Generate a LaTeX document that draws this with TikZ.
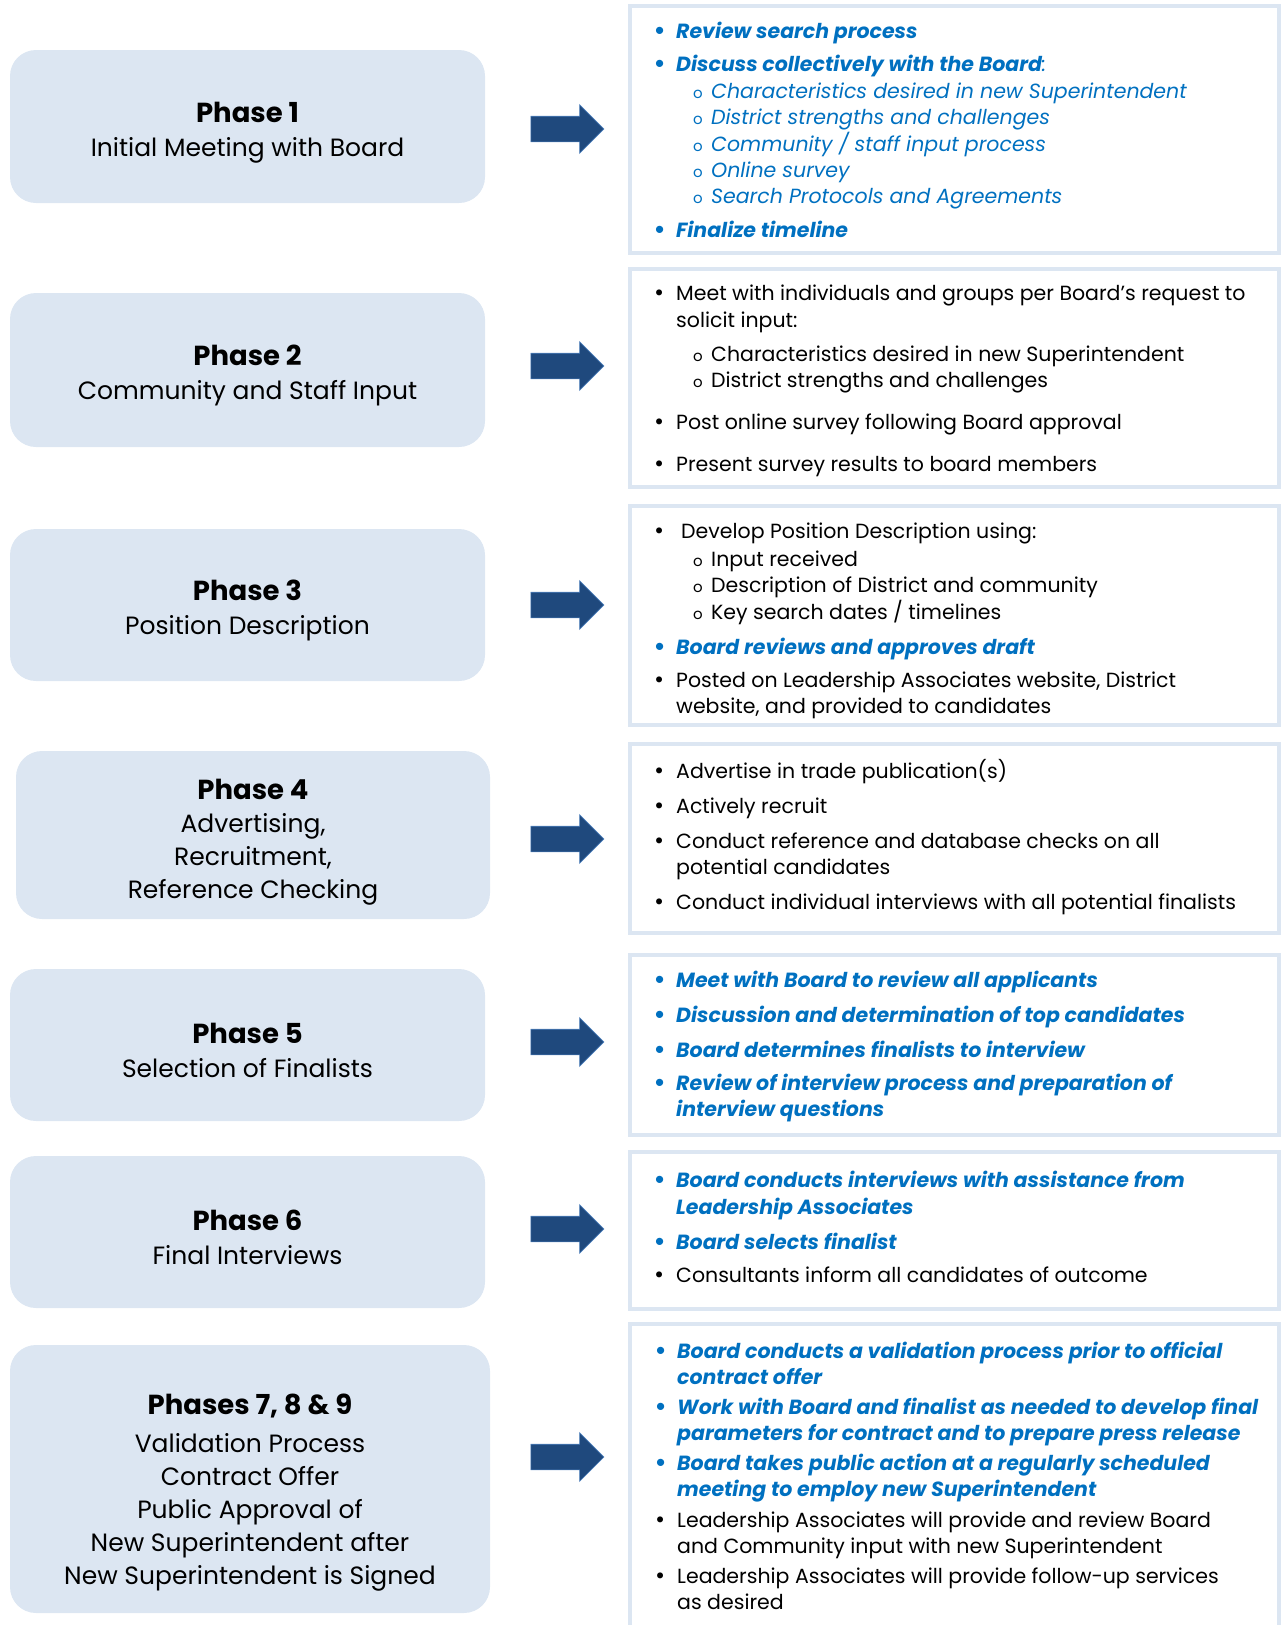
\documentclass[tikz,border=0pt]{standalone}
\usepackage{fontspec}
\setmainfont{Poppins}
\newfontfamily\dotfont{DejaVu Sans}
\usetikzlibrary{positioning,shapes.arrows}
\definecolor{paleblue}{HTML}{DCE6F2}
\definecolor{navy}{HTML}{1F497D}
\definecolor{edgeblue}{HTML}{4F81BD}
\definecolor{textblue}{HTML}{0070C0}
\tikzset{
  phase/.style={rectangle, rounded corners=26pt, fill=paleblue, align=center, inner sep=0pt, font=\fontsize{25}{33}\selectfont},
  frame/.style={rectangle, draw=paleblue, line width=4pt, minimum width=649pt, inner sep=0pt},
  pointer/.style={single arrow, fill=navy, draw=edgeblue, line width=0.6pt, minimum height=73pt, minimum width=48pt, inner sep=12.5pt, single arrow head extend=11.5pt},
  items/.style={anchor=base west, inner sep=0pt, font=\fontsize{20.5}{26}\selectfont}
}
\newcommand{\ptitle}[2][32pt]{\rule{0pt}{#1}{\fontsize{27.5}{34}\selectfont\bfseries #2}}
\newcommand{\dotb}[1][20pt]{\makebox[#1][l]{\kern-3pt\dotfont •}}
\newcommand{\subb}{\makebox[55pt][r]{\makebox[18pt][l]{\upshape\fontsize{15}{15}\selectfont o}}}
\newcommand{\cont}{\makebox[20pt]{}}
\newcommand{\hi}[1]{\textcolor{textblue}{\bfseries\itshape #1}}
\newcommand{\lo}[1]{\textcolor{textblue}{\itshape #1}}
\newenvironment{lines}{\begin{tabular}[t]{@{}l@{}}}{\end{tabular}}

\begin{document}
\begin{tikzpicture}[x=1pt, y=-1pt]
  \useasboundingbox (0,0) rectangle (1281,1625);

  % phases on the left
  \node[phase, minimum width=475pt, minimum height=153pt] (P1) at (247.5,126.5) {\ptitle{Phase 1}\\[1pt]Initial Meeting with Board};
  \node[phase, minimum width=475pt, minimum height=154pt] (P2) at (247.5,370) {\ptitle{Phase 2}\\[1pt]Community and Staff Input};
  \node[phase, minimum width=475pt, minimum height=152pt] (P3) at (247.5,605) {\ptitle{Phase 3}\\[1pt]Position Description};
  \node[phase, minimum width=474pt, minimum height=168pt] (P4) at (253,835) {\ptitle[34pt]{Phase 4}\\[0pt]Advertising,\\Recruitment,\\Reference Checking};
  \node[phase, minimum width=475pt, minimum height=152pt] (P5) at (247.5,1045) {\ptitle{Phase 5}\\[1pt]Selection of Finalists};
  \node[phase, minimum width=475pt, minimum height=152pt] (P6) at (247.5,1232) {\ptitle{Phase 6}\\[1pt]Final Interviews};
  \node[phase, minimum width=480pt, minimum height=268pt] (P7) at (250,1479) {\ptitle[48pt]{Phases 7, 8 \& 9}\\[5pt]Validation Process\\Contract Offer\\Public Approval of\\New Superintendent after\\New Superintendent is Signed};

  % arrows
  \node[pointer] (A1) at (561,129) {};
  \node[pointer] (A2) at (561,366) {};
  \node[pointer] (A3) at (561,605) {};
  \node[pointer] (A4) at (561,839) {};
  \node[pointer] (A5) at (561,1042) {};
  \node[pointer] (A6) at (561,1229) {};
  \node[pointer] (A7) at (561,1457) {};

  % frames on the right
  \node[frame, minimum height=247pt] (R1) at (954.5,129.5) {};
  \node[frame, minimum height=218pt] (R2) at (954.5,378) {};
  \node[frame, minimum height=219pt] (R3) at (954.5,615.5) {};
  \node[frame, minimum height=189pt] (R4) at (954.5,838.5) {};
  \node[frame, minimum height=180pt] (R5) at (954.5,1045) {};
  \node[frame, minimum height=157pt] (R6) at (954.5,1230.5) {};
  \node[frame, minimum height=320pt] (R7) at (954.5,1484) {};

  \node[items] (L1) at (656,38) {\begin{lines}
    \hi{\dotb Review search process}\\[7pt]
    \hi{\dotb Discuss collectively with the Board}\lo{:}\\[1pt]
    \lo{\subb Characteristics desired in new Superintendent}\\
    \lo{\subb District strengths and challenges}\\
    \lo{\subb Community / staff input process}\\
    \lo{\subb Online survey}\\
    \lo{\subb Search Protocols and Agreements}\\[8pt]
    \hi{\dotb Finalize timeline}
  \end{lines}};

  \node[items] (L2) at (656,300) {\begin{lines}
    \dotb Meet with individuals and groups per Board’s request to\\[1pt]
    \cont solicit input:\\[8pt]
    \subb Characteristics desired in new Superintendent\\
    \subb District strengths and challenges\\[16pt]
    \dotb Post online survey following Board approval\\[16pt]
    \dotb Present survey results to board members
  \end{lines}};

  \node[items] (L3) at (656,538) {\begin{lines}
    \dotb[25pt]Develop Position Description using:\\[2pt]
    \subb Input received\\
    \subb Description of District and community\\
    \subb Key search dates / timelines\\[9pt]
    \hi{\dotb Board reviews and approves draft}\\[7pt]
    \dotb Posted on Leadership Associates website, District\\
    \cont website, and provided to candidates
  \end{lines}};

  \node[items] (L4) at (656,778) {\begin{lines}
    \dotb Advertise in trade publication(s)\\[9pt]
    \dotb Actively recruit\\[9pt]
    \dotb Conduct reference and database checks on all\\
    \cont potential candidates\\[9pt]
    \dotb Conduct individual interviews with all potential finalists
  \end{lines}};

  \node[items] (L5) at (656,987) {\begin{lines}
    \hi{\dotb Meet with Board to review all applicants}\\[9pt]
    \hi{\dotb Discussion and determination of top candidates}\\[9pt]
    \hi{\dotb Board determines finalists to interview}\\[7pt]
    \hi{\dotb Review of interview process and preparation of}\\
    \hi{\cont interview questions}
  \end{lines}};

  \node[items] (L6) at (656,1187) {\begin{lines}
    \hi{\dotb Board conducts interviews with assistance from}\\[1pt]
    \hi{\cont Leadership Associates}\\[9pt]
    \hi{\dotb Board selects finalist}\\[7pt]
    \dotb Consultants inform all candidates of outcome
  \end{lines}};

  \node[items] (L7) at (657,1358) {\begin{lines}
    \hi{\dotb Board conducts a validation process prior to official}\\
    \hi{\cont contract offer}\\[4pt]
    \hi{\dotb Work with Board and finalist as needed to develop final}\\
    \hi{\cont parameters for contract and to prepare press release}\\[4pt]
    \hi{\dotb Board takes public action at a regularly scheduled}\\
    \hi{\cont meeting to employ new Superintendent}\\[5pt]
    \dotb Leadership Associates will provide and review Board\\
    \cont and Community input with new Superintendent\\[4pt]
    \dotb Leadership Associates will provide follow-up services\\
    \cont as desired
  \end{lines}};
\end{tikzpicture}
\end{document}
